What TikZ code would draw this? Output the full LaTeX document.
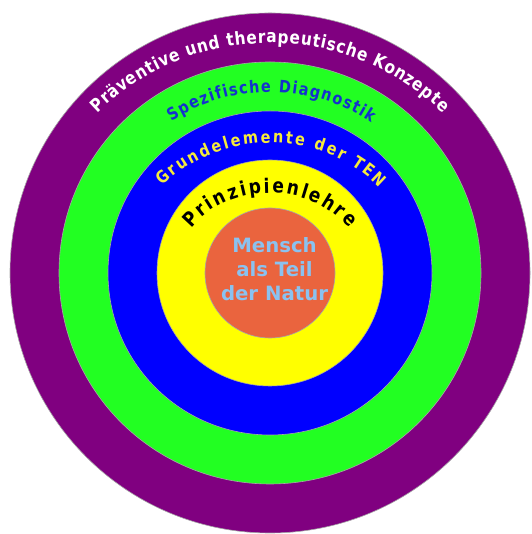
\documentclass[tikz,border=0pt]{standalone}
\usepackage{fontspec}
\setmainfont{DejaVu Sans}
\newfontfamily\arcfont[FakeStretch=0.85]{DejaVu Sans}
\usetikzlibrary{decorations.text}
\definecolor{ringpurple}{RGB}{128,0,128}
\definecolor{ringgreen}{RGB}{34,255,34}
\definecolor{ringblue}{RGB}{0,0,255}
\definecolor{ringyellow}{RGB}{255,255,0}
\definecolor{coreorange}{RGB}{234,100,62}
\definecolor{menschblue}{RGB}{138,194,240}
\definecolor{diagblue}{RGB}{20,50,205}
\definecolor{tenyellow}{RGB}{245,235,60}
\begin{document}
\begin{tikzpicture}[x=1pt,y=1pt,
  ring/.style={draw=black!35, line width=0.6pt},
  arctext/.style={decorate, decoration={text along path, text align=fit to path, text={#1}}}]
\useasboundingbox (0,0) rectangle (531,534);
\coordinate (c) at (270,261);
\fill[ringpurple, ring] (c) circle[radius=260];
\fill[ringgreen, ring] (c) circle[radius=211];
\fill[ringblue, ring] (c) circle[radius=162];
\fill[ringyellow, ring] (c) circle[radius=113];
\fill[coreorange, ring] (c) circle[radius=65];
\path[arctext={|\arcfont\bfseries\fontsize{18}{21}\selectfont\color{white}|Präventive und therapeutische Konzepte}]
  ([shift={(136:240 and 230)}]c) arc[start angle=136, end angle=44, x radius=240, y radius=230];
\path[arctext={|\arcfont\bfseries\fontsize{17}{20}\selectfont\color{diagblue}|Spezifische Diagnostik}]
  ([shift={(123:181)}]c) arc[start angle=123, end angle=56, radius=181];
\path[arctext={|\arcfont\bfseries\fontsize{17}{20}\selectfont\color{tenyellow}|Grundelemente der TEN}]
  ([shift={(138:145 and 130)}]c) arc[start angle=138, end angle=41, x radius=145, y radius=130];
\path[arctext={|\arcfont\bfseries\fontsize{20}{23}\selectfont\color{black}|Prinzipienlehre}]
  ([shift={(146:95 and 80)}]c) arc[start angle=146, end angle=34, x radius=95, y radius=80];
\node[font=\bfseries\fontsize{19.7}{24}\selectfont, text=menschblue, align=center, inner sep=0pt]
  (mensch) at (274.5,264.5) {Mensch\\als Teil\\der Natur};
\end{tikzpicture}
\end{document}
